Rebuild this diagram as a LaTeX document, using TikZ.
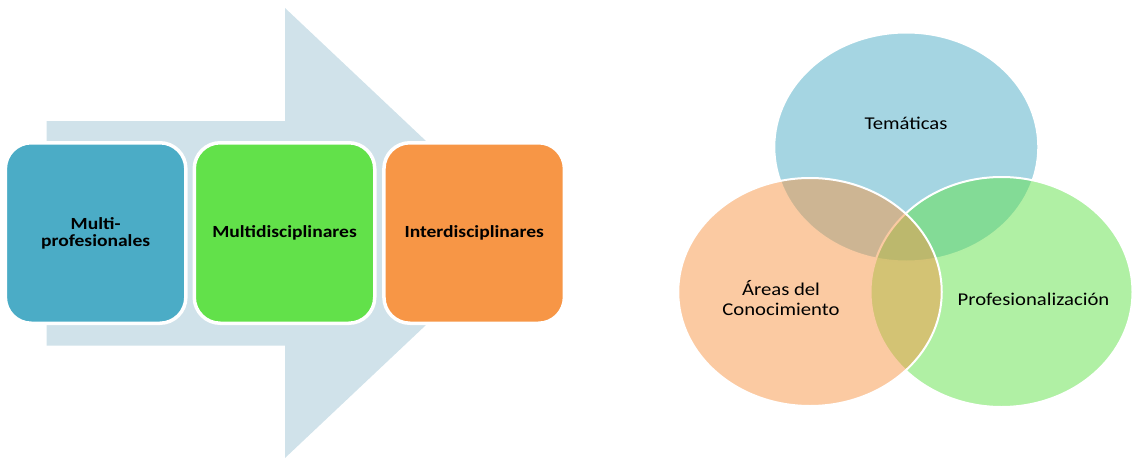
\documentclass[tikz,border=0pt]{standalone}
\usepackage{fontspec}
\setmainfont{Carlito}[FakeStretch=1.15]
\usetikzlibrary{shapes.geometric}
\definecolor{arrowcol}{HTML}{D0E2EA}
\definecolor{boxblue}{HTML}{4BACC6}
\definecolor{boxgreen}{HTML}{62E14A}
\definecolor{boxorange}{HTML}{F79646}
\tikzset{
  stepbox/.style={rectangle, rounded corners=26pt, draw=white, line width=3.5pt,
    minimum width=180.5pt, minimum height=180.5pt, inner sep=0pt,
    font=\fontsize{17}{17}\selectfont\bfseries, align=center, text=black},
  venn/.style={ellipse, draw=white, line width=2pt, draw opacity=1, fill opacity=0.5,
    minimum width=264pt, minimum height=229pt, inner sep=0pt},
  venntext/.style={font=\fontsize{18}{20}\selectfont, align=center, text=black, inner sep=0pt}
}
\begin{document}
\begin{tikzpicture}[x=1pt,y=-1pt]
\useasboundingbox (0,0) rectangle (1132,460);
% big arrow
\fill[arrowcol] (46.7,121) -- (285,121) -- (285,8) -- (523.5,233) -- (285,458) -- (285,345.5) -- (46.7,345.5) -- cycle;
% boxes
\node[stepbox, fill=boxblue] (b1) at (95.6,233) {Multi-\\profesionales};
\node[stepbox, fill=boxgreen] (b2) at (284.5,233) {Multidisciplinares};
\node[stepbox, fill=boxorange] (b3) at (474.2,233) {Interdisciplinares};
% venn
\node[venn, fill=boxblue] (t) at (906.3,147) {};
\node[venn, fill=boxgreen, minimum width=262pt, minimum height=230pt] (p) at (1001.5,292) {};
\node[venn, fill=boxorange, minimum width=263.5pt, minimum height=228pt] (a) at (810,292) {};
\node[venntext, anchor=base] (tt) at (906,129) {Temáticas};
\node[venntext, anchor=base] (at) at (781,315) {Áreas del\\Conocimiento};
\node[venntext, anchor=base] (pt) at (1033.5,305) {Profesionalización};
\end{tikzpicture}
\end{document}
